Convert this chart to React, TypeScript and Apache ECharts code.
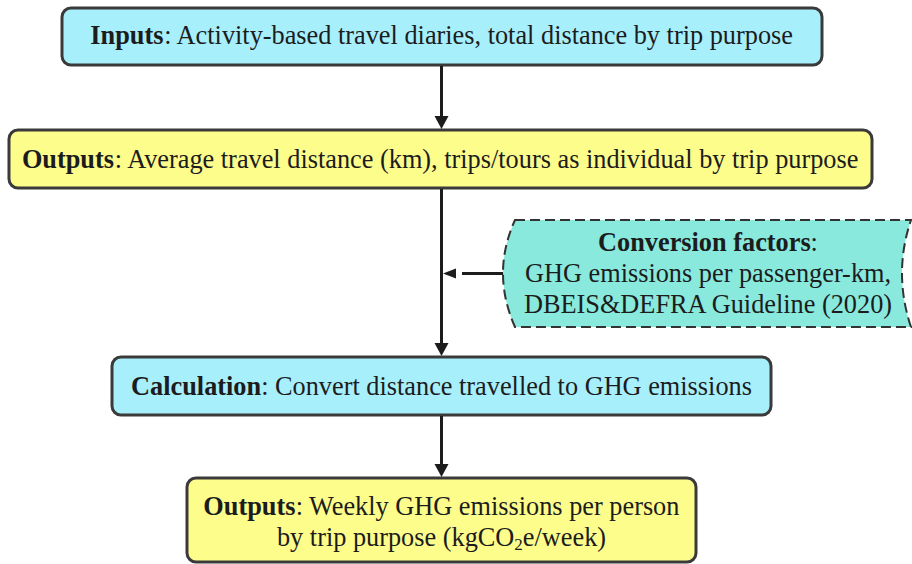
import React, { useEffect, useRef } from "react";
import * as echarts from "echarts";

// ---- content ----
const boxTitles = ["Inputs", "Outputs", "Calculation", "Outputs"];
const boxBodies = [
  ": Activity-based travel diaries, total distance by trip purpose",
  ": Average travel distance (km), trips/tours as individual by trip purpose",
  ": Convert distance travelled to GHG emissions",
  ": Weekly GHG emissions per person",
];
const lastLine = ["by trip purpose (kgCO", "2", "e/week)"];
const convTitle = "Conversion factors";
const convLines = ["GHG emissions per passenger-km,", "DBEIS&DEFRA Guideline (2020)"];

// ---- layout ----
const boxes = [
  { x: 62, y: 8, w: 760, h: 57, fill: "#a8effc", dy: -1 },
  { x: 9, y: 130, w: 863, h: 58, fill: "#fdfd8c", dy: 0 },
  { x: 112, y: 357, w: 659, h: 58, fill: "#a8effc", dy: 0 },
  { x: 187, y: 478, w: 509, h: 84, fill: "#fdfd8c", dy: 2 },
];
const FONT = "Liberation Serif";
const FS = 26.3;
const INK = "#1c1c1c";
const STROKE = "#3a3a3a";
const AX = 441.5;

const convPath =
  "M515,220 L911,220 Q893,273 911,327 L515,327 Q491,273 515,220 Z";

export default function App() {
  const ref = useRef<HTMLDivElement>(null);
  useEffect(() => {
    if (!ref.current) return;
    try {
      echarts.graphic.registerShape(
        "convShape",
        echarts.graphic.extendPath(convPath, {})
      );
    } catch (e) {}
    const chart = echarts.init(ref.current, null, { renderer: "svg" });
    const rich = {
      b: { fontFamily: FONT, fontSize: FS, fontWeight: "bold", fill: INK, lineHeight: 31 },
      r: { fontFamily: FONT, fontSize: FS, fontWeight: "normal", fill: INK, lineHeight: 31 },
      s: { fontFamily: FONT, fontSize: 17, fontWeight: "normal", fill: INK, lineHeight: 19, verticalAlign: "bottom" },
    };
    const g: any[] = [];
    boxes.forEach((b, i) => {
      g.push({
        type: "rect",
        shape: { x: b.x, y: b.y, width: b.w, height: b.h, r: 9 },
        style: { fill: b.fill, stroke: STROKE, lineWidth: 3 },
      });
      let text = `{b|${boxTitles[i]}}{r|${boxBodies[i]}}`;
      if (i === 3) text += `\n{r|${lastLine[0]}}{s|${lastLine[1]}}{r|${lastLine[2]}}`;
      g.push({
        type: "text",
        x: b.x + b.w / 2,
        y: b.y + b.h / 2 + b.dy,
        style: {
          text,
          rich,
          fontFamily: FONT,
          fontSize: FS,
          align: "center",
          verticalAlign: "middle",
          fill: INK,
        },
      });
    });
    // conversion shape
    g.push({
      type: "convShape",
      x: 0,
      y: 0,
      style: { fill: "#88e9dc", stroke: "#333", lineWidth: 2, lineDash: [10, 5] },
    });
    g.push({
      type: "text",
      x: 708,
      y: 273,
      style: {
        text: `{b|${convTitle}}{r|:}\n{r|${convLines[0]}}\n{r|${convLines[1]}}`,
        rich,
        fontFamily: FONT,
        fontSize: FS,
        align: "center",
        verticalAlign: "middle",
        fill: INK,
      },
    });
    // vertical arrows
    const vArrows = [
      [65, 130],
      [188, 357],
      [415, 478],
    ];
    vArrows.forEach(([y1, y2]) => {
      g.push({
        type: "line",
        shape: { x1: AX, y1: y1 + 1, x2: AX, y2: y2 - 10 },
        style: { stroke: INK, lineWidth: 3 },
      });
      g.push({
        type: "polygon",
        shape: { points: [[AX - 7, y2 - 14], [AX + 7, y2 - 14], [AX, y2 - 1]] },
        style: { fill: INK },
      });
    });
    // horizontal arrow
    g.push({
      type: "line",
      shape: { x1: 462, y1: 273.5, x2: 503, y2: 273.5 },
      style: { stroke: INK, lineWidth: 3 },
    });
    g.push({
      type: "polygon",
      shape: { points: [[443, 273.5], [456, 268.5], [456, 278.5]] },
      style: { fill: INK },
    });
    chart.setOption({ animation: false, graphic: { elements: g } });
    return () => chart.dispose();
  }, []);
  return (
    <div
      ref={ref}
      style={{ position: "fixed", left: 0, top: 0, width: 912, height: 564, background: "#fff" }}
    />
  );
}
